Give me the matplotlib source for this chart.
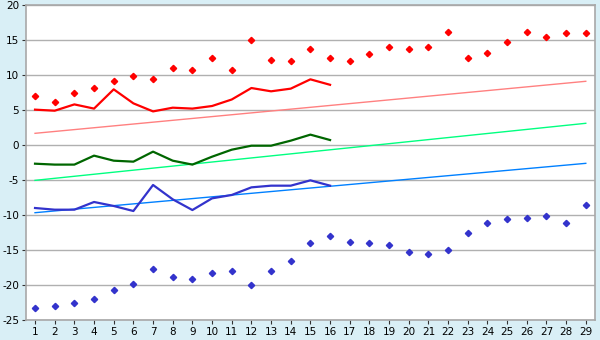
import numpy as np
import matplotlib
matplotlib.use("Agg")
import matplotlib.pyplot as plt

plt.rcParams['axes.unicode_minus'] = False

x_all = list(range(1, 30))
x_line = list(range(1, 17))

red_points = [7.0, 6.2, 7.4, 8.2, 9.1, 9.8, 9.4, 11.0, 10.7, 12.4, 10.7, 15.0, 12.1, 12.0,
              13.7, 12.4, 12.0, 13.0, 14.0, 13.7, 14.0, 16.1, 12.4, 13.1, 14.7, 16.1, 15.4, 16.0, 16.0]
red_line = [5.05, 4.9, 5.8, 5.2, 7.95, 5.95, 4.8, 5.33, 5.2, 5.57, 6.5, 8.14, 7.67, 8.05, 9.38, 8.6]
red_trend = [1.67, 9.1]

green_line = [-2.67, -2.8, -2.8, -1.52, -2.24, -2.38, -0.95, -2.24, -2.8, -1.67, -0.67, -0.1, -0.1, 0.62, 1.48, 0.71]
green_trend = [-5.05, 3.1]

blue_line = [-9.0, -9.24, -9.24, -8.14, -8.71, -9.43, -5.71, -7.76, -9.29, -7.62, -7.14, -6.05, -5.81, -5.81, -5.05, -5.81]
blue_trend = [-9.67, -2.62]
blue_points = [-23.33, -23.05, -22.62, -22.05, -20.76, -19.9, -17.76, -18.9, -19.19, -18.33, -18.05, -20.05, -18.05, -16.62,
               -14.05, -13.05, -13.9, -14.05, -14.33, -15.33, -15.62, -15.05, -12.62, -11.19, -10.62, -10.48, -10.19, -11.19, -8.62]

trend_x = [1, 29]

fig = plt.figure(figsize=(6, 3.4), dpi=100, facecolor='#d9eff6')
ax = fig.add_axes([0.0433, 0.0588, 0.9484, 0.9265])
ax.set_facecolor('white')

ax.yaxis.grid(True, color='#b0b0b0', linewidth=1)
ax.set_axisbelow(True)

ax.plot(trend_x, red_trend, color='#ff8080', linewidth=1)
ax.plot(trend_x, green_trend, color='#00ff80', linewidth=1)
ax.plot(trend_x, blue_trend, color='#0080ff', linewidth=1)

ax.plot(x_line, red_line, color='#ff0000', linewidth=1.6)
ax.plot(x_line, green_line, color='#006600', linewidth=1.6)
ax.plot(x_line, blue_line, color='#3333cc', linewidth=1.6)

ax.plot(x_all, red_points, linestyle='none', marker='D', markersize=3.2, color='#ff0000')
ax.plot(x_all, blue_points, linestyle='none', marker='D', markersize=3.2, color='#3333cc')

ax.set_xlim(0.54, 29.47)
ax.set_ylim(-25, 20)
ax.set_xticks(x_all)
ax.set_yticks(range(-25, 21, 5))
ax.tick_params(axis='both', labelsize=7.5, length=3, pad=2, color='#333333', labelcolor='#000000')
for s in ax.spines.values():
    s.set_color('#a8a8a8')
    s.set_linewidth(1.2)

fig.savefig('out.png', dpi=100, facecolor=fig.get_facecolor())
